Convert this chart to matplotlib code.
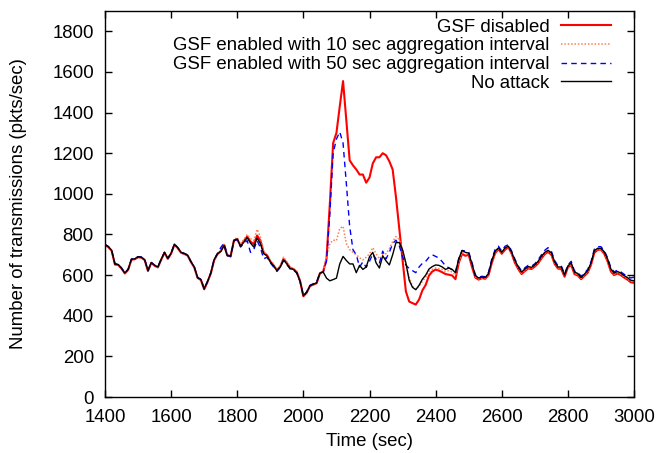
import numpy as np
import matplotlib
matplotlib.use("Agg")
import matplotlib.pyplot as plt

plt.rcParams['font.family'] = ['Liberation Sans', 'DejaVu Sans']

# sample times (sec), one point every 10 s
t = np.arange(1400, 3001, 10)

# No attack
no_attack = [
    750, 740, 722, 655, 652, 634, 610, 628, 678, 680,
    690, 688, 676, 622, 662, 648, 640, 678, 712, 682,
    708, 752, 735, 712, 706, 698, 666, 640, 588, 578,
    532, 568, 610, 675, 705, 716, 745, 695, 695, 772,
    778, 742, 762, 785, 758, 738, 782, 755, 705, 695,
    665, 645, 622, 640, 675, 655, 632, 628, 612, 570,
    498, 515, 548, 555, 562, 610, 615, 585, 572, 578,
    585, 655, 692, 672, 655, 655, 612, 648, 628, 640,
    690, 712, 660, 635, 695, 670, 650, 700, 760, 760,
    725, 660, 575, 540, 528, 550, 580, 600, 630, 642,
    650, 648, 640, 628, 635, 628, 612, 680, 722, 712,
    708, 655, 598, 586, 590, 588, 608, 672, 718, 734,
    712, 734, 742, 712, 672, 640, 615, 630, 642, 638,
    650, 668, 692, 712, 722, 710, 665, 640, 640, 600,
    645, 660, 615, 608, 588, 605, 622, 660, 720, 732,
    732, 715, 680, 630, 610, 618, 610, 598, 588, 575,
    572,
]

# GSF disabled
gsf_off = [
    748, 738, 720, 652, 650, 632, 608, 626, 676, 678,
    688, 686, 674, 620, 660, 646, 638, 676, 710, 680,
    706, 750, 733, 710, 704, 696, 664, 638, 586, 576,
    530, 566, 608, 673, 703, 718, 748, 697, 693, 770,
    776, 745, 768, 790, 765, 752, 795, 770, 710, 698,
    668, 648, 625, 642, 680, 660, 636, 630, 615, 572,
    496, 513, 546, 553, 560, 608, 618, 680, 950, 1250,
    1300, 1430, 1555, 1360, 1165, 1140, 1120, 1095, 1095, 1055,
    1080, 1150, 1180, 1180, 1200, 1190, 1160, 1120, 985, 830,
    670, 520, 470, 462, 455, 480, 525, 552, 598, 618,
    627, 622, 614, 605, 602, 598, 580, 660, 705, 695,
    700, 640, 588, 578, 585, 582, 600, 660, 708, 728,
    705, 725, 738, 705, 660, 630, 605, 620, 633, 630,
    642, 658, 682, 703, 714, 700, 655, 632, 630, 592,
    638, 650, 605, 598, 580, 596, 612, 650, 710, 724,
    726, 705, 668, 618, 600, 608, 600, 588, 578, 565,
    562,
]

# GSF enabled, 10 sec aggregation interval
gsf_10 = [
    749, 739, 721, 654, 651, 633, 609, 627, 677, 679,
    689, 687, 675, 621, 661, 647, 639, 677, 711, 681,
    707, 751, 734, 711, 705, 697, 665, 639, 587, 577,
    531, 567, 609, 674, 704, 720, 752, 700, 696, 775,
    785, 752, 775, 800, 780, 770, 825, 790, 715, 700,
    670, 650, 628, 645, 688, 665, 638, 632, 616, 572,
    497, 514, 547, 554, 561, 609, 616, 690, 755, 772,
    770, 830, 840, 755, 725, 712, 700, 685, 675, 688,
    705, 735, 705, 680, 700, 705, 730, 765, 790, 775,
    720, 650, 590, 545, 530, 545, 570, 590, 618, 628,
    635, 632, 628, 618, 622, 615, 600, 668, 712, 702,
    703, 648, 592, 582, 586, 585, 604, 666, 713, 731,
    708, 730, 740, 708, 666, 635, 610, 625, 637, 634,
    646, 663, 687, 708, 718, 705, 660, 636, 635, 596,
    641, 655, 610, 603, 584, 600, 617, 655, 715, 728,
    729, 710, 674, 624, 605, 613, 605, 593, 583, 570,
    567,
]

# GSF enabled, 50 sec aggregation interval
gsf_50 = [
    751, 741, 723, 656, 653, 635, 611, 629, 679, 681,
    691, 689, 677, 623, 663, 649, 641, 679, 713, 683,
    709, 753, 736, 713, 707, 699, 667, 641, 589, 579,
    533, 569, 611, 676, 706, 735, 758, 700, 690, 768,
    775, 738, 755, 770, 712, 725, 770, 735, 680, 688,
    660, 640, 618, 638, 672, 652, 630, 625, 610, 568,
    497, 518, 550, 558, 565, 612, 614, 670, 900, 1200,
    1270, 1305, 1250, 1050, 840, 725, 700, 640, 665, 638,
    668, 705, 678, 660, 718, 680, 712, 755, 772, 745,
    690, 650, 632, 622, 612, 640, 658, 668, 688, 700,
    692, 684, 666, 645, 636, 626, 615, 682, 720, 720,
    714, 662, 602, 590, 594, 592, 614, 680, 726, 742,
    718, 742, 750, 718, 678, 645, 620, 636, 648, 644,
    656, 675, 700, 722, 735, 718, 672, 646, 646, 606,
    650, 668, 620, 614, 594, 610, 628, 666, 728, 740,
    740, 720, 686, 636, 616, 624, 616, 604, 596, 586,
    590,
]

labels = ["GSF disabled",
          "GSF enabled with 10 sec aggregation interval",
          "GSF enabled with 50 sec aggregation interval",
          "No attack"]

fs = 13.4

fig = plt.figure(figsize=(6.58, 4.53), dpi=100)
ax = fig.add_axes([105 / 658, 1 - 397 / 453, 529 / 658, 386 / 453])

ax.plot(t, gsf_off, color="#ff0000", lw=1.5, label=labels[0])
ax.plot(t, gsf_10, color="#ff7f50", lw=1.1, ls=(0, (1, 1.2)), label=labels[1])
ax.plot(t, gsf_50, color="#0000ff", lw=1.0, ls=(0, (4, 3)), label=labels[2])
ax.plot(t, no_attack, color="black", lw=1.0, label=labels[3])

ax.set_xlim(1400, 3000)
ax.set_ylim(0, 1900)
ax.set_xticks(range(1400, 3001, 200))
ax.set_yticks(range(0, 1801, 200))
ax.tick_params(direction="in", length=5, width=1, top=True, right=True,
               labelsize=fs)
ax.tick_params(axis="x", pad=9)
ax.tick_params(axis="y", pad=8)
for s in ax.spines.values():
    s.set_linewidth(1.0)

ax.set_xlabel("Time (sec)", fontsize=fs)
ax.set_ylabel("Number of transmissions (pkts/sec)", fontsize=fs)
ax.xaxis.set_label_coords(0.5, -0.093)
ax.yaxis.set_label_coords(-0.148, 0.5)

ax.legend(loc="upper right", bbox_to_anchor=(0.9565, 0.98), frameon=False,
          markerfirst=False, fontsize=fs, handlelength=2.7, handletextpad=0.6,
          labelspacing=0.09, borderpad=0, borderaxespad=0)

fig.savefig("out.png", dpi=100)
